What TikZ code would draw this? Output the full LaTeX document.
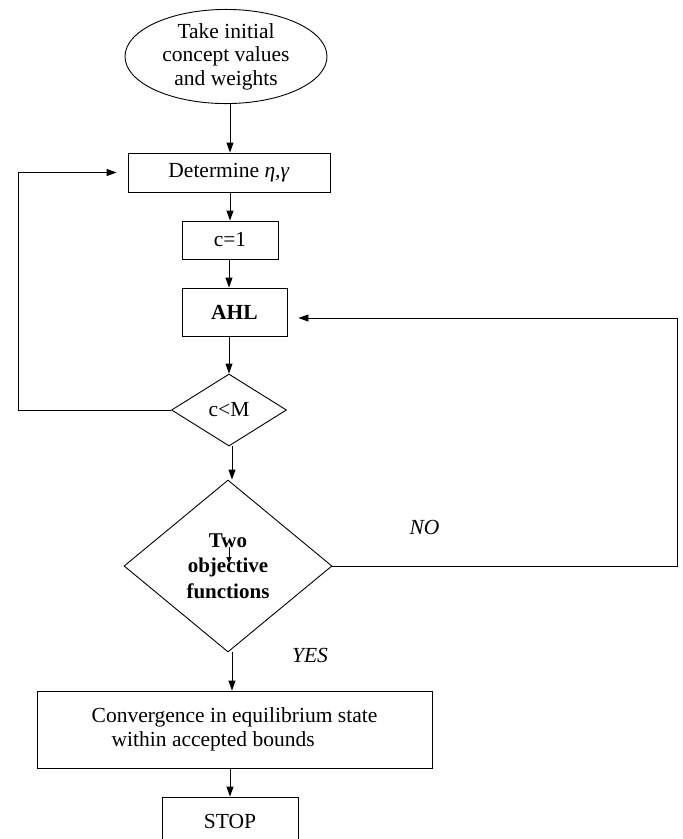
\documentclass[tikz,border=0pt]{standalone}
\usepackage{fontspec}
\setmainfont{Liberation Serif}
\usetikzlibrary{shapes.geometric,arrows.meta}
\tikzset{
  base/.style={draw, line width=0.9pt, inner sep=0pt, align=center,
    font=\fontsize{21.5}{23.5}\selectfont},
  box/.style={base, rectangle},
  dia/.style={base, diamond},
  arr/.style={line width=0.9pt, -{Triangle[length=10pt,width=7pt]}},
  smallarr/.style={line width=0.8pt, -{Triangle[length=6pt,width=5pt]}},
  lbl/.style={font=\fontsize{21.5}{23.5}\selectfont\itshape, inner sep=0pt}
}
\begin{document}
\begin{tikzpicture}[x=1pt,y=-1pt]
\useasboundingbox (0,0) rectangle (683,839);
\clip (0,0) rectangle (683,839);
\node[base, ellipse, minimum width=202pt, minimum height=93pt] (start) at (226,56.5)
  {Take initial\\concept values\\and weights};
\node[box, minimum width=202pt, minimum height=39pt] (det) at (229,172.5) {Determine \textit{η,γ}};
\node[box, minimum width=96pt, minimum height=38pt] (c1) at (230,240) {c=1};
\node[box, minimum width=105pt, minimum height=48pt, font=\fontsize{21.5}{23.5}\selectfont\bfseries] (ahl) at (234.5,312) {AHL};
\node[dia, minimum width=115pt, minimum height=72pt] (cm) at (229,410) {c<M};
\node[dia, minimum width=208pt, minimum height=172pt, font=\fontsize{21}{25.5}\selectfont\bfseries] (big) at (228,566)
  {Two\\objective\\functions};
\node[box, minimum width=395pt, minimum height=77pt, align=left] (conv) at (234.5,729.5)
  {Convergence in equilibrium state\\\hspace*{20pt}within accepted bounds};
\node[box, minimum width=136pt, minimum height=48pt] (stop) at (230,821) {STOP};
\node[lbl] (no) at (424.5,527) {NO};
\node[lbl] (yes) at (310,655) {YES};
\coordinate (lx) at (18,0);
\coordinate (rx) at (677,0);
\coordinate (ia) at (229,547);
\coordinate (ib) at (229,563);
\draw[arr] (start.south) ++(4,0) coordinate (s1) -- (s1 |- det.north);
\draw[arr] (c1.north |- det.south) -- (c1.north);
\draw[arr] (c1.south -| cm.north) -- (cm.north |- ahl.north);
\draw[arr] (cm.north |- ahl.south) -- (cm.north);
\draw[arr] ([xshift=3pt]cm.south) -- ([xshift=3pt]cm.south |- big.north);
\draw[arr] ([xshift=4pt]big.south) -- ([xshift=4pt]big.south |- conv.north);
\draw[arr] (stop.north |- conv.south) -- (stop.north);
\draw[arr, shorten >=11pt] (cm.west) -- (cm.west -| lx) |- (det.west);
\draw[arr, shorten >=11pt] (big.east) -- (big.east -| rx) |- ([yshift=-6pt]ahl.east);
\draw[smallarr] (ia) -- (ib);
\end{tikzpicture}
\end{document}
